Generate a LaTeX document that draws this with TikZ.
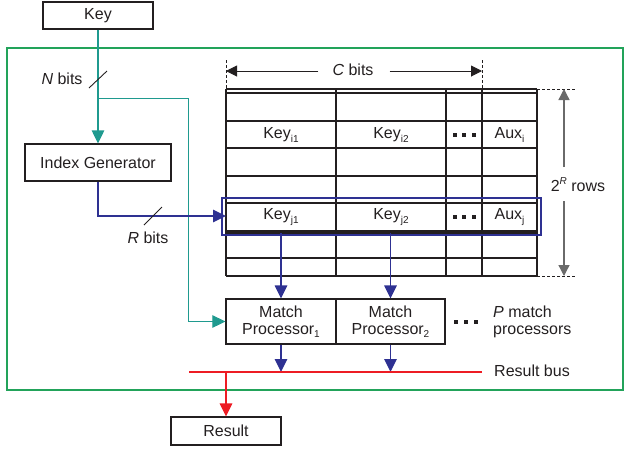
\documentclass[tikz,border=0pt]{standalone}
\usepackage{fontspec}
\setmainfont{Liberation Sans}
\usetikzlibrary{arrows.meta,calc}
\definecolor{inkc}{HTML}{231F20}
\definecolor{tealc}{HTML}{1F9A8F}
\definecolor{bluec}{HTML}{2E3192}
\definecolor{framec}{HTML}{22A35A}
\definecolor{redc}{HTML}{ED1C24}
\definecolor{greyc}{HTML}{6A6A6A}
% subscript set in a smaller size, dropped below the baseline
\newcommand\sbs[1]{\raisebox{-0.42ex}{\fontsize{10}{10}\selectfont #1}}
\begin{document}
\begin{tikzpicture}[x=1pt,y=-1pt,
  font=\fontsize{16}{18}\selectfont,
  box/.style={draw=inkc, line width=1.2pt, inner sep=0pt, text=inkc},
  lbl/.style={inner sep=0pt, text=inkc},
  grid/.style={draw=inkc, line width=1.3pt},
  tip/.style={-{Triangle[length=13pt,width=12.5pt]}},
  tealline/.style={draw=tealc, line width=1.2pt},
  blueline/.style={draw=bluec, line width=1.3pt},
  redline/.style={draw=redc, line width=1.6pt},
  dim/.style={draw=inkc, line width=1pt},
  dimtip/.style={-{Triangle[length=11pt,width=11pt]}},
  dotsq/.style={fill=inkc}]
\useasboundingbox (0,0) rectangle (624,448);

% outer frame
\draw[framec, line width=1.3pt] (7,48) rectangle (623,390);

% boxes
\node[box, minimum width=110pt, minimum height=27pt] (key) at (98,15.5) {Key};
\node[box, minimum width=146pt, minimum height=37pt] (ig) at (98,162.5) {Index Generator};
\node[box, minimum width=110pt, minimum height=28pt] (res) at (226,431) {Result};
\node[box, minimum width=110pt, minimum height=45pt, align=center] (mp1) at (281,321.5)
  {Match\\[-1pt]Processor\sbs{1}};
\node[box, minimum width=109pt, minimum height=45pt, align=center] (mp2) at (390.5,321.5)
  {Match\\[-1pt]Processor\sbs{2}};

% table grid
\foreach \y in {89,93,121,148,176,203,231,233,258,276}
  \draw[grid] (226,\y) -- (537,\y);
\foreach \x in {226,336,446,482,537}
  \draw[grid] (\x,89) -- (\x,276);

% table cell contents
\node[lbl] (ki1) at (281,135) {Key\sbs{i1}};
\node[lbl] (ki2) at (391,135) {Key\sbs{i2}};
\node[lbl] (auxi) at (509.5,135) {Aux\sbs{i}};
\node[lbl] (kj1) at (281,217) {Key\sbs{j1}};
\node[lbl] (kj2) at (391,217) {Key\sbs{j2}};
\node[lbl] (auxj) at (509.5,217) {Aux\sbs{j}};
\foreach \x in {454.5,464,473.5}{
  \fill[dotsq] (\x-2,135-2) rectangle (\x+2,135+2);
  \fill[dotsq] (\x-2,217-2) rectangle (\x+2,217+2);
}

% selected row
\node[draw=bluec, line width=1.2pt, inner sep=0pt, minimum width=319pt, minimum height=37pt] (rowj) at (381.5,216.5) {};

% width of a row
\draw[dim, dashed, dash pattern=on 3pt off 2pt] (226,60) -- (226,89);
\draw[dim, dashed, dash pattern=on 3pt off 2pt] (482,60) -- (482,89);
\node[lbl] (cbits) at (353,70) {\textit{C} bits};
\coordinate (cl) at (226,71);
\coordinate (cr) at (482,71);
\draw[dim, dimtip] (cbits.west) ++(-14,1) -- (cl);
\draw[dim, dimtip] (cbits.east) ++(16,1) -- (cr);

% number of rows
\draw[dim, dashed, dash pattern=on 3pt off 2pt] (537,89) -- (575,89);
\draw[dim, dashed, dash pattern=on 3pt off 2pt] (537,276) -- (575,276);
\node[lbl] (rows) at (578,185) {2\raisebox{0.8ex}{\fontsize{10}{10}\selectfont\textit{R}} rows};
\coordinate (rt) at (564,89);
\coordinate (rb) at (564,276);
\draw[draw=greyc, line width=1.3pt, dimtip] (564,167) -- (rt);
\draw[draw=greyc, line width=1.3pt, dimtip] (564,201) -- (rb);

% key into the index generator, and the branch to the match processors
\coordinate (branch) at (98,98);
\draw[tealline, tip] (key.south) -- (ig.north);
\draw[tealline, line width=1pt, tip] (branch) -| ([xshift=-37pt]mp1.west) -- (mp1.west);
\draw[inkc, line width=0.9pt] (89,88) -- (107,71);
\node[lbl] (nbits) at (62,79) {\textit{N} bits};

% index into the table
\coordinate (tabj) at (226,216);
\draw[blueline, tip] (ig.south) |- (tabj);
\draw[inkc, line width=0.9pt] (144,225) -- (162,207);
\node[lbl] (rbits) at (148,238) {\textit{R} bits};

% row entries into the match processors
\coordinate (kj1b) at (281,233);
\coordinate (kj2b) at (390.5,233);
\draw[blueline, tip] (kj1b) -- (mp1.north);
\draw[blueline, tip] (kj2b) -- (mp2.north);

% more processors
\foreach \x in {456,466,476}
  \fill[dotsq] (\x-2,322-2) rectangle (\x+2,322+2);
\node[lbl, anchor=west, align=left] (pmp) at (493,321.5) {\textit{P} match\\[-1pt]processors};

% result bus
\coordinate (busl) at (189,372);
\coordinate (busr) at (482,372);
\coordinate (busout) at (226,372);
\draw[blueline, tip] (mp1.south) -- (mp1.south |- busl);
\draw[blueline, tip] (mp2.south) -- (mp2.south |- busl);
\draw[redline] (busl) -- (busr);
\draw[redline, line width=1.4pt, tip] (busout) -- (res.north);
\node[lbl, anchor=west] (bus) at (494,371) {Result bus};
\end{tikzpicture}
\end{document}
